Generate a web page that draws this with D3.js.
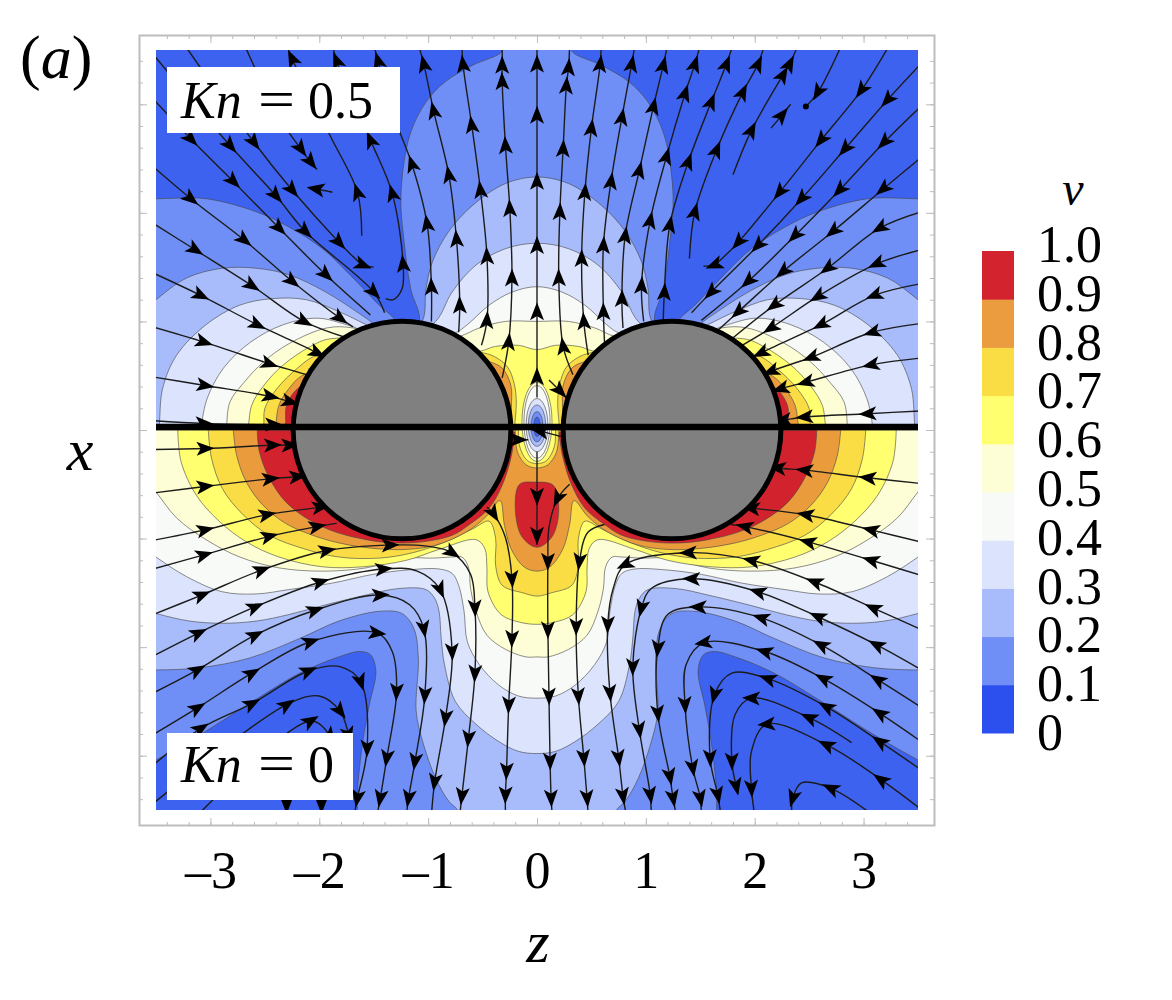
<!DOCTYPE html>
<html><head><meta charset="utf-8">
<script src="https://cdn.jsdelivr.net/npm/d3@7/dist/d3.min.js"></script>
<style>html,body{margin:0;background:#fff}svg{display:block}text{font-family:"Liberation Serif",serif;fill:#000}</style>
</head><body><svg id="c" width="1172" height="1000"></svg>
<script>
// ---------- colour bar ----------
const levelLabels = ["0","0.1","0.2","0.3","0.4","0.5","0.6","0.7","0.8","0.9","1.0"];
const levelValues = [0,0.1,0.2,0.3,0.4,0.5,0.6,0.7,0.8,0.9,1.0];
const barColors = ["#2c50ee","#6f8ff6","#a8bcfb","#dbe3fd","#f8faf7","#fefed6","#ffff70","#fadd45","#ea9c3e","#d2232e"];
const fieldDark = "#3e62ef";
const sphereCenters = [-1.24,1.24];
const sphereRadius = 1;
const zTicks = [-3,-2,-1,0,1,2,3];
const zTickLabels = ["–3","–2","–1","0","1","2","3"];
const minorTicks = [-3.4,-3.2,-3,-2.8,-2.6,-2.4,-2.2,-2,-1.8,-1.6,-1.4,-1.2,-1,-.8,-.6,-.4,-.2,0,.2,.4,.6,.8,1,1.2,1.4,1.6,1.8,2,2.2,2.4,2.6,2.8,3,3.2,3.4];

// ---------- contours, upper half (Kn=0.5), right side, z>=0 ----------
const upDark = [[.32,3.6],[.32,3.49],[.59,3.36],[.84,3.21],[1.02,3.02],[1.17,2.71],[1.25,2.16],[1.22,1.73],[1.16,1.30],[1.08,1.01],[1.2,.8],[1.30,1.01],[1.45,1.15],[1.69,1.40],[1.97,1.67],[2.28,1.87],[2.58,2.01],[3.04,2.13],[3.5,2.13],[3.8,2.13],[3.8,3.8],[.32,3.8]];
const up02 = [[0,2.33],[.29,2.27],[.59,2.07],[.81,1.83],[.96,1.55],[1.02,1.30],[1.05,1.01],[1.24,.8],[1.57,1.03],[1.94,1.27],[2.28,1.43],[2.58,1.49],[2.89,1.49],[3.22,1.40],[3.5,1.20],[3.8,.95],[3.8,0]];
const up03 = [[0,1.72],[.29,1.67],[.56,1.52],[.78,1.27],[.93,1.0],[1.24,.8],[1.57,.97],[1.82,1.09],[2.12,1.20],[2.43,1.21],[2.73,1.15],[3.04,.97],[3.31,.69],[3.44,.38],[3.47,.05],[3.48,0]];
const up04 = [[0,1.32],[.23,1.27],[.44,1.15],[.64,.97],[.76,.89],[1.24,.8],[1.75,.97],[2.02,1.03],[2.33,.97],[2.63,.81],[2.88,.57],[3.03,.29],[3.08,.05],[3.08,0]];
const up05 = [[0,1.0],[.29,1.0],[.53,.94],[.72,.86],[1.24,.8],[1.69,.94],[1.93,.94],[2.27,.80],[2.51,.63],[2.69,.44],[2.82,.26],[2.85,.05],[2.85,0]];
const up06 = [[0,.74],[.17,.78],[.38,.77],[.56,.72],[1.24,.8],[1.90,.84],[2.08,.77],[2.33,.60],[2.51,.41],[2.62,.23],[2.65,.05],[2.66,0]];
const up07 = [[.21,0],[.19,.25],[.21,.43],[.27,.58],[.38,.67],[.49,.71],[1.24,.8],[2.02,.69],[2.20,.57],[2.39,.38],[2.50,.20],[2.51,.05],[2.52,0]];
const up08 = [[.235,0],[.235,.2],[.24,.41],[.32,.57],[.44,.63],[.6,.65],[1.24,.7],[2.14,.51],[2.28,.38],[2.37,.23],[2.40,.05],[2.41,0]];
const up09 = [[1.5,0],[2.1,.42],[2.20,.38],[2.30,.23],[2.31,.05],[2.32,0]];

// ---------- contours, lower half (Kn=0), right side ----------
const lowDark = [[3.8,-3.2],[3.5,-3.04],[3.10,-2.81],[2.58,-2.48],[2.18,-2.24],[1.85,-2.10],[1.63,-2.04],[1.53,-2.07],[1.48,-2.22],[1.54,-2.53],[1.60,-2.87],[1.65,-3.33],[1.65,-3.5],[1.65,-3.8],[3.8,-3.8]];
const low02 = [[0,-3.8],[.6,-3.8],[.73,-3.5],[.81,-3.42],[.93,-3.21],[1.05,-2.87],[1.11,-2.59],[1.09,-2.10],[1.13,-1.83],[1.24,-1.69],[1.45,-1.67],[1.82,-1.76],[2.18,-1.92],[2.64,-2.10],[3.10,-2.19],[3.5,-2.21],[3.8,-2.2],[3.8,0]];
const low03 = [[0,-2.98],[.17,-2.96],[.35,-2.87],[.56,-2.71],[.75,-2.50],[.85,-2.16],[.88,-1.92],[.90,-1.67],[.94,-1.55],[1.02,-1.47],[1.27,-1.46],[1.57,-1.52],[1.94,-1.61],[2.28,-1.70],[2.58,-1.76],[2.89,-1.78],[3.19,-1.76],[3.5,-1.69],[3.8,-1.6],[3.8,0]];
const low04 = [[0,-2.47],[.17,-2.45],[.35,-2.35],[.53,-2.16],[.64,-1.95],[.67,-1.67],[.72,-1.43],[.78,-1.32],[.90,-1.28],[1.20,-1.29],[1.51,-1.33],[1.88,-1.41],[2.28,-1.47],[2.58,-1.51],[2.89,-1.49],[3.22,-1.35],[3.5,-1.17],[3.8,-.95],[3.8,0]];
const low05 = [[0,-2.09],[.10,-2.09],[.29,-2.02],[.46,-1.89],[.56,-1.67],[.61,-1.46],[.63,-1.26],[.69,-1.17],[.78,-1.17],[.96,-1.18],[1.20,-1.18],[1.57,-1.27],[1.97,-1.30],[2.37,-1.27],[2.73,-1.17],[3.04,-1.01],[3.31,-.81],[3.5,-.57],[3.8,-.2],[3.8,0]];
const low06 = [[0,-1.79],[.16,-1.77],[.33,-1.70],[.45,-1.49],[.46,-1.27],[.48,-1.09],[.56,-1.01],[.90,-1.10],[1.20,-1.20],[1.60,-1.26],[1.97,-1.26],[2.37,-1.17],[2.67,-1.03],[2.92,-.84],[3.13,-.60],[3.27,-.29],[3.30,0]];
const low07 = [[0,-1.53],[.13,-1.50],[.32,-1.43],[.38,-1.25],[.38,-1.0],[.44,-.84],[.59,-.91],[.84,-1.03],[1.14,-1.13],[1.45,-1.18],[1.82,-1.17],[2.12,-1.10],[2.46,-.97],[2.70,-.78],[2.89,-.54],[2.99,-.26],[3.02,0]];
const low08 = [[0,-1.30],[.12,-1.26],[.24,-1.09],[.30,-.87],[.34,-.65],[.47,-.80],[.65,-.94],[.93,-1.06],[1.20,-1.10],[1.51,-1.09],[1.82,-1.04],[2.06,-.97],[2.31,-.86],[2.52,-.69],[2.67,-.48],[2.76,-.23],[2.79,0]];
const low09 = [[.20,-.02],[.24,-.26],[.32,-.51],[.44,-.72],[.62,-.87],[.78,-.97],[1.05,-1.03],[1.33,-1.04],[1.57,-1.01],[1.85,-.94],[2.09,-.83],[2.31,-.66],[2.46,-.44],[2.55,-.20],[2.57,0]];
const centerRed = [[-.02,-.48],[.15,-.51],[.20,-.74],[.14,-.98],[0,-1.08],[-.14,-.98],[-.20,-.71],[-.16,-.50]];

// ---------- slow pocket between the spheres (below levels) ----------
const pocket08 = [[0,-.35],[.1,-.32],[.18,-.2],[.2,0]];
const pocket07 = [[0,-.31],[.09,-.28],[.16,-.15],[.17,0]];
const pocketTop = [.44,.41,.29,.23,.17,.12];
const pocketBottom = [-.29,-.26,-.20,-.15,-.11,-.06];
const pocketHalf = [.138,.12,.10,.08,.055,.03];

// ---------- streamlines, in flow order. third value 0 = bend without an arrowhead ----------
const streamTopRight = [
 [[0,.3],[0,.49],[0,1.09],[0,1.70],[0,2.29],[0,2.90],[0,3.37],[0,3.55]],
 [[.33,.51],[.24,.77],[.20,1.40],[.21,2.01],[.24,2.59],[.27,3.17],[.29,3.34],[.30,3.55]],
 [[.47,.69],[.43,1.0],[.41,1.58],[.44,2.19],[.50,2.78],[.58,3.37],[.59,3.55]],
 [[.62,.81],[.61,1.09],[.61,1.70],[.68,2.29],[.78,2.88],[.87,3.37],[.90,3.55]],
 [[.79,.94],[.78,1.21],[.81,1.79],[.94,2.39],[1.07,2.98],[1.16,3.36],[1.20,3.55]],
 [[.98,1.0],[.96,1.33],[1.04,1.93],[1.19,2.52],[1.36,3.10],[1.45,3.37],[1.50,3.55]],
 [[1.16,1.01],[1.17,1.27],[1.22,1.89],[1.39,2.47],[1.60,3.02],[1.74,3.37],[1.80,3.55]],
 [[1.40,1.58],[1.45,2.01],[1.65,2.58],[1.89,3.11],[2.03,3.37],[2.09,3.55]],
 [[1.80,2.35],[1.97,2.76],[2.26,3.27],[2.32,3.37],[2.40,3.55]],
 [[2.15,2.78],[2.25,2.90],[2.33,3.0]],
 [[2.80,3.55],[2.58,3.11],[2.47,2.98]],
 [[3.24,3.55],[2.98,3.13],[2.61,2.67],[2.23,2.19],[1.85,1.73],[1.70,1.58,0],[1.63,1.52],[1.53,1.51]],
 [[3.6,3.45],[3.22,3.04],[2.83,2.59],[2.43,2.13],[2.03,1.70],[1.60,1.27],[1.42,1.08]],
 [[3.6,3.05],[3.19,2.65],[2.78,2.21],[2.37,1.79],[1.94,1.37],[1.51,1.01]],
 [[3.6,2.57],[3.18,2.22],[2.72,1.83],[2.26,1.46],[1.85,1.09],[1.62,.88]],
 [[3.6,2.03],[3.15,1.86],[2.67,1.49],[2.18,1.15],[1.79,.84]],
 [[3.6,1.68],[3.12,1.53],[2.58,1.23],[2.15,.94],[1.85,.76]],
 [[3.6,1.36],[3.10,1.24],[2.61,.97],[2.06,.71],[1.90,.62]],
 [[3.6,.99],[3.08,.90],[2.52,.67],[2.15,.54],[2.03,.48]],
 [[3.6,.67],[3.07,.60],[2.47,.44],[2.24,.38],[2.15,.34]],
 [[3.6,.18],[3.04,.15],[2.46,.12],[2.26,.09],[2.18,.08]],
 [[.11,.46],[.21,.36],[.30,.26]]
];
const streamTopLeft = [
 [[-.32,.48],[-.26,.81],[-.23,1.40],[-.25,2.04],[-.29,2.62],[-.32,3.21],[-.32,3.36],[-.32,3.55]],
 [[-.51,.78],[-.46,1.01],[-.46,1.60],[-.52,2.21],[-.60,2.81],[-.68,3.37],[-.69,3.55]],
 [[-.72,.90],[-.71,1.15],[-.74,1.76],[-.81,2.35],[-.95,2.94],[-1.04,3.37],[-1.09,3.55]],
 [[-.97,1.0],[-.97,1.32],[-1.01,1.90],[-1.15,2.45],[-1.30,2.85,0],[-1.46,3.40],[-1.5,3.55]],
 [[-1.39,1.21],[-1.32,1.20,0],[-1.24,1.30,0],[-1.23,1.53],[-1.33,2.18],[-1.53,2.67],[-1.84,3.40],[-1.88,3.55]],
 [[-1.61,1.79],[-1.65,2.19],[-1.90,2.71,0],[-2.25,3.42],[-2.3,3.55]],
 [[-3.24,3.55],[-2.60,2.65],[-2.25,2.21],[-1.82,1.73],[-1.65,1.56,0],[-1.60,1.52],[-1.50,1.50]],
 [[-3.6,3.55],[-2.82,2.62],[-2.40,2.16],[-2.13,1.83],[-1.50,1.27],[-1.40,1.08]],
 [[-3.6,3.13],[-3.18,2.68],[-2.79,2.29],[-2.37,1.86],[-1.94,1.43],[-1.53,1.06]],
 [[-3.6,2.49],[-3.18,2.13],[-2.69,1.75],[-2.25,1.37],[-1.81,1.03],[-1.69,.95]],
 [[-3.6,1.95],[-3.14,1.66],[-2.62,1.33],[-2.14,1.0],[-1.75,.85]],
 [[-3.6,1.48],[-3.09,1.24],[-2.57,.97],[-2.02,.71],[-1.90,.63]],
 [[-3.6,.97],[-3.06,.81],[-2.46,.61],[-2.05,.48],[-1.98,.42]],
 [[-3.6,.50],[-3.05,.41],[-2.45,.31],[-2.27,.26],[-2.2,.24]],
 [[-3.6,.09],[-3.06,.06],[-2.42,.05],[-2.3,.05]],
 [[-2.69,3.55],[-2.35,2.85,0],[-2.17,2.59],[-2.08,2.47],[-2.02,2.40]],
 [[-1.88,2.19],[-2.03,2.22],[-2.10,2.23]]
];
const streamBottomRight = [
 [[.30,-.50],[.19,-.63],[.11,-.90,0],[.10,-1.21],[.10,-1.84],[.11,-2.45],[.12,-3.05],[.13,-3.39],[.14,-3.55]],
 [[.62,-.87],[.47,-.94,0],[.39,-1.21],[.36,-1.81],[.38,-2.45],[.43,-3.02],[.46,-3.39],[.47,-3.55]],
 [[3.6,-.50],[3.04,-.44],[2.46,-.37],[2.21,-.35],[2.13,-.33]],
 [[3.6,-1.05],[3.07,-.92],[2.47,-.78],[1.97,-.72],[1.90,-.71]],
 [[3.6,-1.36],[3.07,-1.20],[2.49,-1.03],[1.91,-.89],[1.78,-.87]],
 [[3.6,-1.87],[3.09,-1.64],[2.55,-1.40],[1.97,-1.20],[1.39,-1.13],[.81,-1.24],[.70,-1.46,0],[.65,-1.79],[.67,-2.42],[.75,-3.02],[.79,-3.37],[.82,-3.55]],
 [[3.6,-2.25],[3.12,-1.98],[2.58,-1.72],[2.03,-1.49],[1.42,-1.37],[1.05,-1.46,0],[.96,-1.64],[.88,-2.18],[.94,-2.76],[1.04,-3.36],[1.05,-3.55]],
 [[3.6,-2.6],[3.13,-2.30],[2.61,-1.98],[2.06,-1.73],[1.48,-1.63],[1.20,-1.70,0],[1.11,-2.01],[1.11,-2.61],[1.22,-3.19],[1.25,-3.39],[1.28,-3.55]],
 [[3.6,-2.92],[3.15,-2.61],[2.63,-2.29],[2.09,-2.04],[1.53,-1.96],[1.37,-2.16,0],[1.36,-2.53],[1.43,-3.11],[1.50,-3.39],[1.51,-3.55]],
 [[3.6,-3.18],[3.15,-2.87],[2.66,-2.55],[2.12,-2.29],[1.79,-2.24,0],[1.63,-2.44],[1.59,-3.02],[1.66,-3.36],[1.69,-3.55]],
 [[2.89,-2.88],[2.50,-2.65],[1.97,-2.47],[1.82,-2.62,0],[1.79,-3.05],[1.83,-3.28],[1.85,-3.35]],
 [[3.6,-3.55],[3.16,-3.22],[2.66,-2.90],[2.11,-2.71],[1.97,-2.96,0],[1.97,-3.30],[2.0,-3.55]],
 [[3.09,-3.55],[2.70,-3.30],[2.43,-3.25,0],[2.35,-3.39],[2.34,-3.55]]
];
const streamBottomLeft = [
 [[-.46,-.71],[-.40,-.77],[-.29,-.99,0],[-.23,-1.37],[-.23,-1.92],[-.26,-2.53],[-.28,-3.14],[-.29,-3.36],[-.29,-3.55]],
 [[-3.6,-.18],[-3.05,-.17],[-2.43,-.14],[-2.27,-.14],[-2.2,-.13]],
 [[-3.6,-.59],[-3.05,-.52],[-2.45,-.45],[-2.20,-.43],[-2.12,-.42]],
 [[-3.6,-1.03],[-3.05,-.92],[-2.48,-.78],[-1.99,-.71],[-1.9,-.69]],
 [[-3.6,-1.30],[-3.06,-1.15],[-2.46,-.98],[-2.02,-.89],[-1.84,-.86]],
 [[-3.6,-1.73],[-3.08,-1.52],[-2.53,-1.29],[-1.93,-1.11],[-1.35,-1.06],[-1.01,-1.07,0],[-.78,-1.13],[-.61,-1.33,0],[-.57,-1.64],[-.57,-2.24],[-.63,-2.84],[-.69,-3.37],[-.71,-3.55]],
 [[-3.6,-2.12],[-3.11,-1.87],[-2.59,-1.63],[-1.99,-1.40],[-1.41,-1.28],[-1.10,-1.30,0],[-.89,-1.47],[-.78,-2.04],[-.84,-2.65],[-.94,-3.24],[-.97,-3.55]],
 [[-3.6,-2.46],[-3.12,-2.21],[-2.59,-1.89],[-2.04,-1.66],[-1.44,-1.52],[-1.17,-1.61,0],[-1.04,-1.83],[-1.03,-2.44],[-1.12,-3.05],[-1.18,-3.39],[-1.20,-3.55]],
 [[-3.6,-2.85],[-3.12,-2.56],[-2.62,-2.24],[-2.08,-1.95],[-1.47,-1.87],[-1.33,-2.04,0],[-1.29,-2.41],[-1.38,-3.02],[-1.44,-3.39],[-1.47,-3.55]],
 [[-3.6,-3.15],[-3.09,-2.75],[-2.62,-2.52],[-2.10,-2.22],[-1.81,-2.18,0],[-1.62,-2.32],[-1.56,-2.93],[-1.65,-3.39],[-1.68,-3.55]],
 [[-3.6,-3.5],[-2.30,-2.53],[-2.0,-2.45,0],[-1.81,-2.59],[-1.73,-2.81],[-1.7,-3.0]],
 [[-3.12,-3.55],[-2.08,-2.68],[-1.90,-2.82],[-1.85,-3.0]],
 [[-2.30,-3.2],[-2.30,-3.45],[-2.30,-3.55]],
 [[-1.98,-3.2],[-1.98,-3.45],[-1.98,-3.55]]
];
const streamCenter = [
 [[0,-.2],[0,-.61],[0,-.97],[0,-1.06]],
 [[-.30,-.09],[-.17,-.09],[-.08,-.09]],
 [[.22,-.06],[.03,-.01],[-.05,0]]
];
const streamDots = [[2.47,2.98]];

// ---------- scales ----------
const svg = d3.select("#c");
const zS = d3.scaleLinear().domain([-3.5,3.5]).range([156,918]);
const xS = d3.scaleLinear().domain([-3.5,3.5]).range([810,50]);
const barS = d3.scaleLinear().domain([0,1]).range([733,251]);
const barLabelS = d3.scaleLinear().domain([0,1]).range([750,262]);
const px = d => zS(d[0]), py = d => xS(d[1]);
const open = d3.line().x(px).y(py).curve(d3.curveCatmullRom);
const ring = d3.line().x(px).y(py).curve(d3.curveCatmullRomClosed);
const mir = a => a.map(d => [-d[0],d[1]]);
const both = a => mir(a).slice().reverse().slice(0,a[0][0]===0?-1:undefined).concat(a);

const defs = svg.append("defs");
defs.append("clipPath").attr("id","plot").append("rect")
  .attr("x",zS(-3.5)).attr("y",xS(3.5)).attr("width",zS(3.5)-zS(-3.5)).attr("height",xS(-3.5)-xS(3.5));
defs.append("filter").attr("id","soft").attr("x","-2%").attr("y","-2%").attr("width","104%").attr("height","104%")
  .append("feGaussianBlur").attr("stdDeviation",.55);

// frame with ticks
const frameG = svg.append("g");
const frameC="#bdbdbd";
frameG.append("rect").attr("x",139.5).attr("y",35.5).attr("width",795).attr("height",790).attr("fill","#fff").attr("stroke",frameC).attr("stroke-width",2);
function frameAxis(ax,tr,vals,size){
  const g=frameG.append("g").attr("transform",tr).call(ax.tickValues(vals).tickSize(size).tickFormat(""));
  g.select(".domain").remove(); g.selectAll("line").attr("stroke",frameC).attr("stroke-width",1);
}
[[minorTicks,-4],[zTicks,-8]].forEach(([v,s])=>{
  frameAxis(d3.axisBottom(zS),"translate(0,826)",v,s);
  frameAxis(d3.axisTop(zS),"translate(0,35)",v,s);
  frameAxis(d3.axisLeft(xS),"translate(139,0)",v,s);
  frameAxis(d3.axisRight(xS),"translate(934,0)",v,s);
});

// filled contour field
const clipG = svg.append("g").attr("clip-path","url(#plot)");
const softG = clipG.append("g").attr("filter","url(#soft)");
const field = softG.append("g");
const lineStyle = s => s.attr("stroke","#444").attr("stroke-opacity",.6).attr("stroke-width",1);
const fillMir = (a,c) => field.append("path").attr("d",open(both(a))+"Z").attr("fill",c).call(lineStyle);
const fillRing = (a,c) => field.append("path").attr("d",ring(a)).attr("fill",c).call(lineStyle);
const sideRing = (a,c) => { fillRing(a,c); fillRing(mir(a),c); };
const sideOpen = (a,c) => { field.append("path").attr("d",open(a)+"Z").attr("fill",c).call(lineStyle);
                            field.append("path").attr("d",open(mir(a))+"Z").attr("fill",c).call(lineStyle); };

field.append("rect").attr("x",zS(-3.7)).attr("y",xS(3.7)).attr("width",zS(3.7)-zS(-3.7)).attr("height",xS(-3.7)-xS(3.7)).attr("fill",barColors[1]);
sideRing(upDark,fieldDark);
sideRing(lowDark,fieldDark);
[[up02,2],[up03,3],[up04,4],[up05,5],[up06,6]].forEach(([a,i])=>fillMir(a,barColors[i]));
sideOpen(up07,barColors[7]); sideOpen(up08,barColors[8]); sideOpen(up09,barColors[9]);
[[low02,2],[low03,3],[low04,4],[low05,5],[low06,6],[low07,7],[low08,8]].forEach(([a,i])=>fillMir(a,barColors[i]));
sideOpen(low09,barColors[9]);
fillRing(centerRed,barColors[9]);
fillMir(pocket08,barColors[7]);
fillMir(pocket07,barColors[6]);
pocketTop.forEach((t,i)=>{
  const b=pocketBottom[i], mid=(t+b)/2;
  field.append("ellipse").attr("cx",zS(0)).attr("cy",xS(mid))
    .attr("rx",zS(pocketHalf[i])-zS(0)).attr("ry",xS(b)-xS(mid))
    .attr("fill",i===5?fieldDark:barColors[5-i]).call(lineStyle);
});

// streamlines
const flow = softG.append("g");
const arrowShape = "M9.5,0L-8.5,-7L-4.3,0L-8.5,7Z";
[streamTopRight,streamTopLeft,streamBottomRight,streamBottomLeft,streamCenter].flat().forEach(s=>{
  flow.append("path").attr("d",open(s)).attr("fill","none").attr("stroke","#1c1c1c").attr("stroke-width",1.4);
  s.forEach((p,i)=>{
    if(i===0||i===s.length-1||p[2]===0) return;
    const a=s[i-1], b=s[i+1];
    const ang=Math.atan2(py(b)-py(a),px(b)-px(a))*180/Math.PI;
    flow.append("path").attr("d",arrowShape).attr("fill","#000")
      .attr("transform",`translate(${px(p)},${py(p)}) rotate(${ang})`);
  });
});
flow.selectAll("circle").data(streamDots).join("circle").attr("cx",px).attr("cy",py).attr("r",3).attr("fill","#000");

// spheres
const r = zS(sphereRadius)-zS(0);
const sph = svg.append("g");
sph.selectAll("circle").data(sphereCenters).join("circle")
  .attr("cx",d=>zS(d)).attr("cy",xS(0)).attr("r",r)
  .attr("fill","#808080").attr("stroke","#000").attr("stroke-width",5);
sph.append("line").attr("x1",zS(-3.5)).attr("x2",zS(3.5)).attr("y1",xS(.027)).attr("y2",xS(.027)).attr("stroke","#000").attr("stroke-width",6.5);

// Kn labels
function knLabel(x,y,w,h,tx,base,num){
  const g=svg.append("g");
  g.append("rect").attr("x",x).attr("y",y).attr("width",w).attr("height",h).attr("fill","#fff");
  g.append("text").attr("x",tx).attr("y",base).attr("font-size",52).attr("font-style","italic").text("Kn");
  g.append("text").attr("x",tx+77).attr("y",base-1).attr("font-size",52).attr("textLength",37).attr("lengthAdjust","spacingAndGlyphs").text("=");
  g.append("text").attr("x",tx+127).attr("y",base).attr("font-size",52).text(num);
}
knLabel(167,67,233,66,181,118,"0.5");
knLabel(167,733,186,67,181,782,"0");

// z axis labels
const zAxis = svg.append("g").attr("transform","translate(0,892)")
  .call(d3.axisBottom(zS).tickValues(zTicks).tickSize(0).tickFormat((d,i)=>zTickLabels[i]));
zAxis.select(".domain").remove();
zAxis.selectAll("text").attr("y",-4).attr("dy",0).attr("font-size",52).attr("font-family",'"Liberation Serif",serif').attr("fill","#000");

// colour bar
const bar = svg.append("g");
barColors.forEach((c,i)=>{
  bar.append("rect").attr("x",982).attr("width",32).attr("y",barS(levelValues[i+1])).attr("height",barS(levelValues[i])-barS(levelValues[i+1])+.5).attr("fill",c);
});
levelValues.forEach((v,i)=>{
  bar.append("text").attr("x",1037).attr("y",barLabelS(v)).attr("font-size",52).text(levelLabels[i]);
});
const note=(t,x,y,s)=>svg.append("text").attr("x",x).attr("y",y).attr("font-size",s).attr("font-style","italic").attr("text-anchor","middle").text(t);
note("v",1073,205,48);
note("x",80,470,60);
note("z",538,962,60);
svg.append("text").attr("x",20).attr("y",78).attr("font-size",62).html('(<tspan font-style="italic">a</tspan>)');
</script></body></html>
